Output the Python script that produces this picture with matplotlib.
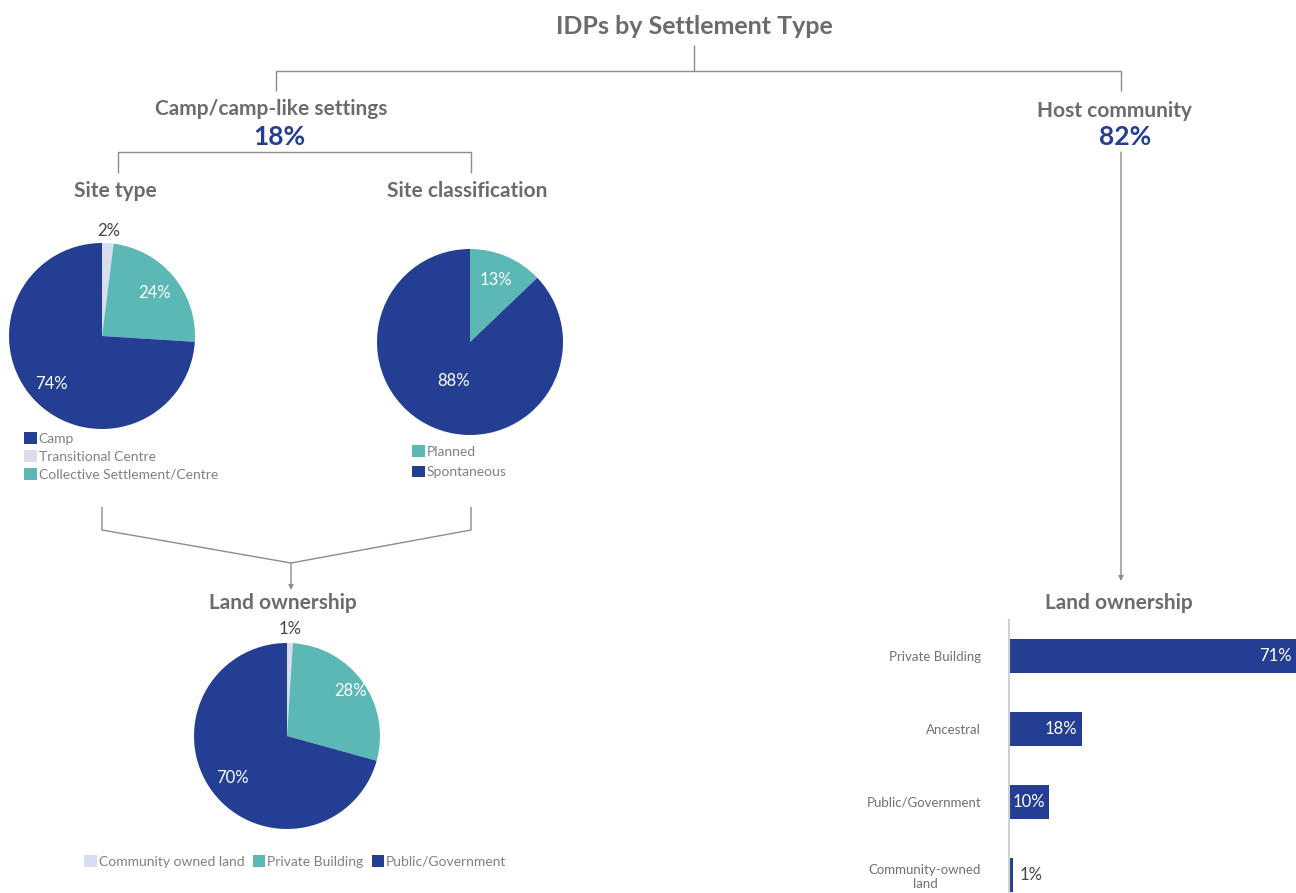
import math
import matplotlib
matplotlib.use("Agg")
import matplotlib.pyplot as plt

W, H = 1296, 893
BLUE = "#233e93"
TEAL = "#5bb8b4"
LAV = "#d9ddf0"
GRAY = "#6b6b6b"
LINE = "#8c8c8c"

plt.rcParams['font.family'] = ['Lato', 'DejaVu Sans']

# data
site_type_labels = ["Transitional Centre", "Collective Settlement/Centre", "Camp"]
site_type_values = [2, 24, 74]
site_class_labels = ["Planned", "Spontaneous"]
site_class_values = [13, 88]
camp_land_labels = ["Community owned land", "Private Building", "Public/Government"]
camp_land_values = [1, 28, 70]
host_land_labels = ["Private Building", "Ancestral", "Public/Government", "Community-owned\nland"]
host_land_values = [71, 18, 10, 1]
camp_share = 18
host_share = 82


def box(x0, y0, x1, y1):
    # pixel box (top-left origin) -> figure fraction
    return [x0 / W, 1 - y1 / H, (x1 - x0) / W, (y1 - y0) / H]


fig = plt.figure(figsize=(W / 100, H / 100), dpi=100)
ax0 = fig.add_axes([0, 0, 1, 1])
ax0.set_xlim(0, W)
ax0.set_ylim(H, 0)
ax0.axis('off')


def seg(pts):
    xs, ys = zip(*pts)
    ax0.plot(xs, ys, color=LINE, lw=1, solid_capstyle='butt')


def arrow(x, y0, y1):
    ax0.annotate("", xy=(x, y1), xytext=(x, y0),
                 arrowprops=dict(arrowstyle='-|>', color=LINE, lw=1,
                                 mutation_scale=7, shrinkA=0, shrinkB=0))


head = dict(color=GRAY, fontweight='bold', ha='center', va='center')

# tree connectors
ax0.text(694, 27, "IDPs by Settlement Type", fontsize=18, **head)
seg([(694, 45), (694, 71)])
seg([(276, 91), (276, 71), (1121, 71), (1121, 91)])
ax0.text(271, 109, "Camp/camp-like settings", fontsize=15, **head)
ax0.text(279, 137, f"{camp_share}%", fontsize=19, color=BLUE,
         fontweight='bold', ha='center', va='center')
ax0.text(1114, 111, "Host community", fontsize=15, **head)
ax0.text(1125, 137, f"{host_share}%", fontsize=19, color=BLUE,
         fontweight='bold', ha='center', va='center')
seg([(118, 173), (118, 152), (471, 152), (471, 173)])
ax0.text(115, 191, "Site type", fontsize=15, **head)
ax0.text(467, 191, "Site classification", fontsize=15, **head)
arrow(1121, 152, 581)
seg([(102, 507), (102, 530), (291, 563), (471, 530), (471, 507)])
arrow(291, 563, 590)
ax0.text(283, 603, "Land ownership", fontsize=15, **head)
ax0.text(1119, 603, "Land ownership", fontsize=15, **head)


def pie(cx, cy, r, values, colors, dists, txtcolors):
    ax = fig.add_axes(box(cx - r, cy - r, cx + r, cy + r))
    wedges, _, autos = ax.pie(values, colors=colors, startangle=90,
                              counterclock=False, autopct='%d%%',
                              wedgeprops=dict(linewidth=0))
    for v, w, t, d, c in zip(values, wedges, autos, dists, txtcolors):
        ang = math.radians((w.theta1 + w.theta2) / 2)
        t.set_position((d * math.cos(ang), d * math.sin(ang)))
        t.set_text(f"{v}%")
        t.set_color(c)
        t.set_fontsize(12)
    ax.set_xlim(-1, 1)
    ax.set_ylim(-1, 1)
    ax.set_aspect('equal')
    ax.axis('off')
    return ax, wedges


ax1, w1 = pie(102, 336, 93, site_type_values, [LAV, TEAL, BLUE],
              [1.13, 0.73, 0.75], ["#444444", "white", "white"])
ax2, w2 = pie(470, 342, 93, site_class_values, [TEAL, BLUE],
              [0.72, 0.46], ["white", "white"])
ax3, w3 = pie(287, 736, 93, camp_land_values, [LAV, TEAL, BLUE],
              [1.15, 0.84, 0.74], ["#444444", "white", "white"])

leg_kw = dict(frameon=False, fontsize=10, handlelength=0.9, handleheight=0.9,
              handletextpad=0.15, borderaxespad=0,
              borderpad=0, labelcolor="#808080")

# legends
fig.legend([w1[2], w1[0], w1[1]],
           [site_type_labels[2], site_type_labels[0], site_type_labels[1]],
           loc='upper left', bbox_to_anchor=(24 / W, 1 - 432 / H),
           labelspacing=0.4, **leg_kw)
fig.legend(w2, site_class_labels, loc='upper left', labelspacing=0.6,
           bbox_to_anchor=(412 / W, 1 - 445 / H), **leg_kw)
fig.legend(w3, camp_land_labels, loc='upper left', ncol=3, columnspacing=0.6,
           bbox_to_anchor=(84 / W, 1 - 855 / H), **leg_kw)

# host community land ownership bars
axb = fig.add_axes(box(1009, 620, 1296, 893))
ypos = list(range(len(host_land_values)))
bars = axb.barh(ypos, host_land_values, height=0.46, color=BLUE)
axb.set_xlim(0, max(host_land_values))
axb.set_ylim(3.25, -0.49)
axb.set_yticks(ypos)
axb.set_yticklabels(host_land_labels, fontsize=9.5, color="#707070",
                    multialignment='center')
axb.tick_params(axis='y', length=0, pad=20)
axb.set_xticks([])
for s in ['top', 'right', 'bottom']:
    axb.spines[s].set_visible(False)
axb.spines['left'].set_color("#d0d0d0")
axb.spines['left'].set_linewidth(1.5)
for b, v in zip(bars, host_land_values):
    yc = b.get_y() + b.get_height() / 2
    if v >= 5:
        axb.annotate(f"{v}%", (v, yc), xytext=(-3, 0), textcoords='offset points',
                     ha='right', va='center', color='white', fontsize=12)
    else:
        axb.annotate(f"{v}%", (v, yc), xytext=(5, 0), textcoords='offset points',
                     ha='left', va='center', color='#444444', fontsize=12)

fig.savefig("out.png", dpi=100)
